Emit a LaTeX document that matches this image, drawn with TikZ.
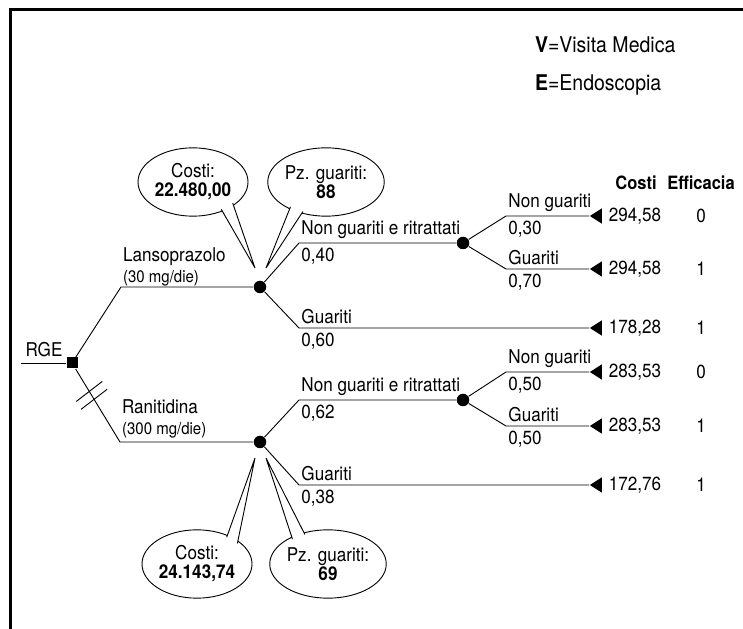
\documentclass[tikz,border=0pt]{standalone}
\usepackage{fontspec}
\setmainfont{TeX Gyre Heros}[FakeStretch=0.9]
\usetikzlibrary{shapes.geometric,calc}
\begin{document}
\begin{tikzpicture}[x=0.6pt,y=-0.6pt,line width=0.55pt,font=\fontsize{11.4}{11.4}\selectfont,
	caso/.style={circle,fill,inner sep=0pt,minimum size=7.5pt},
	scelta/.style={rectangle,fill,inner sep=0pt,minimum size=6.6pt},
	fine/.style={isosceles triangle,isosceles triangle apex angle=65,shape border rotate=180,fill,inner sep=0pt,minimum width=7.2pt,minimum height=7.2pt,anchor=apex},
	fumetto/.style={ellipse,draw,fill=white,align=center,inner sep=0pt,minimum width=66pt,minimum height=41pt},
	sopra/.style={anchor=south west,inner xsep=1.2pt,inner ysep=2.5pt},
	sotto/.style={anchor=north west,inner xsep=1.2pt,inner ysep=2.5pt}]
	\useasboundingbox (0,0) rectangle (743,629);
	\draw[line width=1.8pt] (10,629)--(10,10)--(743,10);
	\node[anchor=west,font=\fontsize{13}{14}\selectfont] (legV) at (529,45) {\textbf{V}=Visita Medica};
	\node[anchor=west,font=\fontsize{13}{14}\selectfont] (legE) at (529,85) {\textbf{E}=Endoscopia};
	\node[font=\fontsize{11}{11}\bfseries] (hcosti) at (636,183) {Costi};
	\node[font=\fontsize{11}{11}\bfseries] (heff) at (701,183) {Efficacia};
	% albero
	\node[scelta] (rge) at (72,363) {};
	\coordinate (rgein) at (21,363);
	\draw (rgein)--(rge);
	\node[anchor=south,inner sep=2.5pt] (rgetxt) at (44,361) {RGE};
	\coordinate (lansoK) at (121,287);
	\coordinate (raniK) at (120,442);
	\node[caso] (lanso) at (260,287) {};
	\node[caso] (rani) at (260,442) {};
	\draw (rge)--(lansoK)--(lanso);
	\draw (rge)--(raniK)--(rani);
	\node[sopra,align=left,inner sep=1pt,font=\fontsize{11.4}{12.5}\selectfont] (lansotxt) at (121,288) {Lansoprazolo\\{\fontsize{10}{10}\selectfont(30 mg/die)}};
	\node[sopra,align=left,inner sep=1pt,font=\fontsize{11.4}{12.5}\selectfont] (ranitxt) at (120,440) {Ranitidina\\{\fontsize{10}{10}\selectfont(300 mg/die)}};
	\coordinate (dd1) at ($(rge)!0.36!(raniK)$);
	\coordinate (dd2) at ($(rge)!0.46!(raniK)$);
	\draw ($(dd1)+(-13,10)$)--($(dd1)+(13,-10)$);
	\draw ($(dd2)+(-13,10)$)--($(dd2)+(13,-10)$);
	% lansoprazolo
	\node[caso] (lansoN) at (463,243) {};
	\coordinate (lansoNK) at (299,243);
	\coordinate (lansoGK) at (299,328);
	\node[fine] (t3) at (589,328) {};
	\draw (lanso)--(lansoNK)--(lansoN);
	\draw (lanso)--(lansoGK)--(t3.apex);
	\node[sopra] at (lansoNK) {Non guariti e ritrattati};
	\node[sotto] at (lansoNK) {0,40};
	\node[sopra] at (lansoGK) {Guariti};
	\node[sotto] at (lansoGK) {0,60};
	\coordinate (lnK1) at (506,216);
	\coordinate (lnK2) at (506,269);
	\node[fine] (t1) at (589,216) {};
	\node[fine] (t2) at (589,269) {};
	\draw (lansoN)--(lnK1)--(t1.apex);
	\draw (lansoN)--(lnK2)--(t2.apex);
	\node[sopra] at (lnK1) {Non guariti};
	\node[sotto] at (lnK1) {0,30};
	\node[sopra] at (lnK2) {Guariti};
	\node[sotto] at (lnK2) {0,70};
	% ranitidina
	\node[caso] (raniN) at (463,400) {};
	\coordinate (raniNK) at (299,400);
	\coordinate (raniGK) at (299,485);
	\node[fine] (t6) at (589,485) {};
	\draw (rani)--(raniNK)--(raniN);
	\draw (rani)--(raniGK)--(t6.apex);
	\node[sopra] at (raniNK) {Non guariti e ritrattati};
	\node[sotto] at (raniNK) {0,62};
	\node[sopra] at (raniGK) {Guariti};
	\node[sotto] at (raniGK) {0,38};
	\coordinate (rnK1) at (506,372);
	\coordinate (rnK2) at (506,426);
	\node[fine] (t4) at (589,372) {};
	\node[fine] (t5) at (589,426) {};
	\draw (raniN)--(rnK1)--(t4.apex);
	\draw (raniN)--(rnK2)--(t5.apex);
	\node[sopra] at (rnK1) {Non guariti};
	\node[sotto] at (rnK1) {0,50};
	\node[sopra] at (rnK2) {Guariti};
	\node[sotto] at (rnK2) {0,50};
	% costi ed efficacia
	\foreach \n/\y/\c/\e in {1/216/{294,58}/0,2/269/{294,58}/1,3/328/{178,28}/1,4/372/{283,53}/0,5/426/{283,53}/1,6/485/{172,76}/1}{
		\node (c\n) at (635,\y) {\c};
		\node (e\n) at (701,\y) {\e};
	}
	% fumetti
	\node[fumetto] (fcL) at (193,182) {Costi:\\\textbf{22.480,00}};
	\node[fumetto] (fpL) at (326,182) {Pz. guariti:\\\textbf{88}};
	\node[fumetto] (fcR) at (197,564) {Costi:\\\textbf{24.143,74}};
	\node[fumetto] (fpR) at (328,564) {Pz. guariti:\\\textbf{69}};
	\coordinate (pcL) at (255,268);
	\coordinate (ppL) at (266,268);
	\coordinate (pcR) at (255,458);
	\coordinate (ppR) at (266,458);
	\draw[fill=white] ($(fcL.-44)!0.06!(fcL.center)$)--(pcL)--($(fcL.-28)!0.06!(fcL.center)$);
	\draw[fill=white] ($(fpL.-145)!0.06!(fpL.center)$)--(ppL)--($(fpL.-128)!0.06!(fpL.center)$);
	\draw[fill=white] ($(fcR.42)!0.06!(fcR.center)$)--(pcR)--($(fcR.27)!0.06!(fcR.center)$);
	\draw[fill=white] ($(fpR.145)!0.06!(fpR.center)$)--(ppR)--($(fpR.128)!0.06!(fpR.center)$);
\end{tikzpicture}
\end{document}
